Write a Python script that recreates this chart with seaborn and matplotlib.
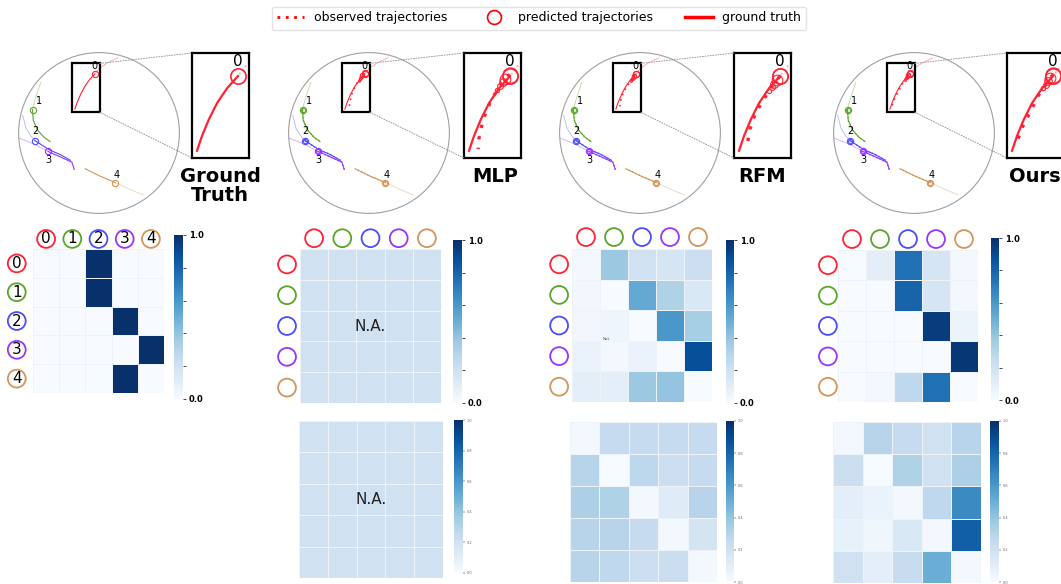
import numpy as np
import matplotlib
matplotlib.use("Agg")
import matplotlib.pyplot as plt
import seaborn as sns
from matplotlib.lines import Line2D
from matplotlib.patches import Circle, Rectangle, ConnectionPatch

W, H = 1061, 584

AGENT_IDS = ["0", "1", "2", "3", "4"]
AGENT_COLORS = ["#ff2233", "#5aa528", "#4b4bff", "#9933ff", "#d4955a"]

# scene coordinates: the round scene is centred on (0, 0) with radius 1
AGENT_PAST = [
    [(0.235, 0.935), (0.10, 0.87), (0.0, 0.80), (-0.054, 0.732)],
    [(-0.724, 0.629), (-0.773, 0.486), (-0.810, 0.363), (-0.827, 0.290)],
    [(-0.949, 0.220), (-0.908, 0.057), (-0.847, -0.037), (-0.798, -0.094)],
    [(-0.990, -0.065), (-0.806, -0.139), (-0.635, -0.229)],
    [(0.549, -0.771), (0.378, -0.698), (0.202, -0.616)],
]
AGENT_FUTURE = [
    [(-0.054, 0.732), (-0.119, 0.662), (-0.179, 0.576), (-0.229, 0.480), (-0.270, 0.384), (-0.300, 0.298)],
    [(-0.827, 0.290), (-0.818, 0.159), (-0.765, 0.037), (-0.684, -0.053), (-0.610, -0.106)],
    [(-0.798, -0.094), (-0.622, -0.208), (-0.480, -0.269), (-0.357, -0.339)],
    [(-0.635, -0.229), (-0.480, -0.298), (-0.337, -0.363), (-0.308, -0.453)],
    [(0.202, -0.616), (0.010, -0.535), (-0.173, -0.445)],
]
LABEL_XY = [(-0.059, 0.83), (-0.74, 0.40), (-0.786, 0.03), (-0.63, -0.34), (0.214, -0.527)]

# predicted track of agent 0 for each method (dense near the start, where the circles sit)
PRED0_MLP = [(-0.054, 0.741), (-0.083, 0.716), (-0.099, 0.697), (-0.113, 0.674), (-0.130, 0.651),
             (-0.170, 0.587), (-0.215, 0.481), (-0.241, 0.366), (-0.245, 0.308)]
PRED0_RFM = [(-0.054, 0.731), (-0.075, 0.708), (-0.090, 0.688), (-0.104, 0.668), (-0.118, 0.648),
             (-0.158, 0.587), (-0.204, 0.510), (-0.235, 0.423), (-0.251, 0.331)]
PRED0_OURS = [(-0.054, 0.741), (-0.070, 0.720), (-0.083, 0.702), (-0.097, 0.683), (-0.112, 0.662),
              (-0.144, 0.616), (-0.188, 0.529), (-0.239, 0.433), (-0.279, 0.327)]
PRED_CIRCLE_SCALE = [1.0, 0.7, 0.5, 0.38, 0.28]

ZOOM_X = (-0.33, 0.012)
ZOOM_Y = (0.256, 0.866)

METHODS = ["Ground\nTruth", "MLP", "RFM", "Ours"]

GT_ASSIGN = [
    [0, 0, 1, 0, 0],
    [0, 0, 1, 0, 0],
    [0, 0, 0, 1, 0],
    [0, 0, 0, 0, 1],
    [0, 0, 0, 1, 0],
]
MLP_ASSIGN = [[0.2] * 5 for _ in range(5)]
RFM_ASSIGN = [
    [0.02, 0.38, 0.20, 0.17, 0.22],
    [0.03, 0.00, 0.52, 0.32, 0.15],
    [0.03, 0.05, 0.00, 0.60, 0.35],
    [0.07, 0.02, 0.07, 0.00, 0.88],
    [0.10, 0.10, 0.38, 0.40, 0.00],
]
OURS_ASSIGN = [
    [0.00, 0.10, 0.75, 0.17, 0.02],
    [0.00, 0.00, 0.80, 0.17, 0.02],
    [0.00, 0.00, 0.00, 0.95, 0.06],
    [0.00, 0.00, 0.00, 0.00, 0.97],
    [0.00, 0.02, 0.27, 0.75, 0.00],
]
MLP_ATTN = [[0.2] * 5 for _ in range(5)]
RFM_ATTN = [
    [0.02, 0.25, 0.25, 0.25, 0.25],
    [0.30, 0.01, 0.28, 0.22, 0.25],
    [0.33, 0.32, 0.02, 0.12, 0.30],
    [0.30, 0.30, 0.25, 0.02, 0.18],
    [0.30, 0.27, 0.22, 0.23, 0.02],
]
OURS_ATTN = [
    [0.02, 0.30, 0.25, 0.20, 0.30],
    [0.22, 0.01, 0.32, 0.20, 0.33],
    [0.10, 0.07, 0.02, 0.27, 0.65],
    [0.08, 0.04, 0.15, 0.02, 0.82],
    [0.20, 0.10, 0.24, 0.50, 0.02],
]

# layout, in pixels from the top-left corner
SCENE_CX = [99, 369, 640, 914]
SCENE_CY = 133
SCENE_R = 82
INSET_X = [192, 464, 734, 1007]
TITLE_XY = [(220, 186), (495, 176), (762, 176), (1035, 176)]
HM1 = [(33, 249, 164, 393), (300, 249, 441, 403), (572, 249, 712, 402), (838, 250, 978, 402)]
CB1 = [(174, 235, 183, 399), (453, 240, 462, 403), (726, 240, 734, 403), (991, 238, 999, 400)]
LBL_OFF = [(-0.35, -0.62), (-0.35, -0.46), (-0.39, -0.46), (-0.36, -0.36)]
HM2 = [None, (299, 421, 443, 578), (570, 422, 717, 582), (833, 422, 981, 583)]
CB2 = [None, (454, 420, 463, 573), (726, 421, 734, 582), (990, 421, 999, 582)]

fig = plt.figure(figsize=(W / 100, H / 100), dpi=100)


def px_axes(x0, y0, x1, y1):
    return fig.add_axes([x0 / W, 1 - y1 / H, (x1 - x0) / W, (y1 - y0) / H])


def draw_tracks(ax, pred0, big):
    lw = 1.6 if big else 0.8
    ms = 11 if big else 4.5
    for k in range(5):
        c = AGENT_COLORS[k]
        past = np.array(AGENT_PAST[k])
        fut = np.array(AGENT_FUTURE[k])
        ax.plot(past[:, 0], past[:, 1], color=c, lw=lw * 0.8, alpha=0.4,
                ls=":" if big else "-")
        ax.plot(fut[:, 0], fut[:, 1], color=c, lw=lw)
        if pred0 is not None:
            if k == 0:
                pred = np.array(pred0)
                ax.plot(pred[:, 0], pred[:, 1], color=c, lw=lw * 1.5, ls=(0, (1, 2.5)))
                for p, s in zip(pred, PRED_CIRCLE_SCALE):
                    ax.plot(p[0], p[1], marker="o", ms=ms * s, mfc="none", mec=c, mew=0.8)
            else:
                ax.plot(fut[:, 0], fut[:, 1], color=c, lw=lw * 1.3, ls=(0, (1, 1.5)), alpha=0.8)
                ax.plot(fut[0, 0], fut[0, 1], marker="o", ms=ms * 0.65, mfc="none", mec=c, mew=0.7)
        ax.plot(fut[0, 0], fut[0, 1], marker="o", ms=ms, mfc="none", mec=c,
                mew=1.2 if big else 0.8)


def draw_scene(i, pred0):
    cx = SCENE_CX[i]
    ax = px_axes(cx - SCENE_R, SCENE_CY - SCENE_R, cx + SCENE_R, SCENE_CY + SCENE_R)
    ax.set_xlim(-1.02, 1.02)
    ax.set_ylim(-1.02, 1.02)
    ax.axis("off")
    ax.add_patch(Circle((0, 0), 1, fill=False, ec="#a0a0a0", lw=0.8))
    draw_tracks(ax, pred0, big=False)
    for k in range(5):
        ax.text(LABEL_XY[k][0], LABEL_XY[k][1], AGENT_IDS[k], fontsize=7,
                ha="center", va="center")
    ax.add_patch(Rectangle((ZOOM_X[0], ZOOM_Y[0]), ZOOM_X[1] - ZOOM_X[0],
                           ZOOM_Y[1] - ZOOM_Y[0], fill=False, ec="black", lw=1.6, zorder=5))

    ins = px_axes(INSET_X[i], 53, INSET_X[i] + 57, 158)
    ins.set_xlim(*ZOOM_X)
    ins.set_ylim(*ZOOM_Y)
    ins.set_xticks([])
    ins.set_yticks([])
    for sp in ins.spines.values():
        sp.set_linewidth(1.6)
    draw_tracks(ins, pred0, big=True)
    ins.text(-0.058, 0.815, "0", fontsize=11, ha="center", va="center")

    for (bx, by), (ix, iy) in [((ZOOM_X[1], ZOOM_Y[1]), (0, 1)), ((ZOOM_X[1], ZOOM_Y[0]), (0, 0))]:
        con = ConnectionPatch(xyA=(bx, by), coordsA=ax.transData, xyB=(ix, iy),
                              coordsB=ins.transAxes, color="#999999", lw=0.7, ls=":")
        fig.add_artist(con)

    tx, ty = TITLE_XY[i]
    fig.text(tx / W, 1 - ty / H, METHODS[i], fontsize=14, fontweight="bold",
             ha="center", va="center", linespacing=1.05)


def draw_heatmap(box, cbox, mat, small_cbar, labels=None, numbered=False):
    ax = px_axes(*box)
    cax = px_axes(*cbox)
    sns.heatmap(np.array(mat), ax=ax, cbar_ax=cax, cmap="Blues", vmin=0, vmax=1,
                linewidths=0.6, linecolor="#eef3f9", xticklabels=False, yticklabels=False)
    ticks = [0, 0.2, 0.4, 0.6, 0.8, 1.0]
    cax.set_yticks(ticks)
    if small_cbar:
        cax.set_yticklabels([f"{t:.1f}" for t in ticks], fontsize=2.5, color="#666666")
        cax.tick_params(length=1.5, width=0.3, pad=1)
    else:
        cax.set_yticklabels(["0.0", "", "", "", "", "1.0"], fontsize=6, fontweight="bold")
        cax.tick_params(length=2, width=0.5, pad=2)
    if labels is not None:
        oy, ox = labels
        pos = np.arange(5) + 0.5
        ax.scatter(pos, [oy] * 5, s=165, facecolors="white", edgecolors=AGENT_COLORS,
                   linewidths=1.3, clip_on=False, zorder=5)
        ax.scatter([ox] * 5, pos, s=165, facecolors="white", edgecolors=AGENT_COLORS,
                   linewidths=1.3, clip_on=False, zorder=5)
        if numbered:
            for k in range(5):
                ax.text(pos[k], oy, AGENT_IDS[k], fontsize=11, ha="center", va="center", zorder=6)
                ax.text(ox, pos[k], AGENT_IDS[k], fontsize=11, ha="center", va="center", zorder=6)
    return ax


draw_scene(0, None)
draw_scene(1, PRED0_MLP)
draw_scene(2, PRED0_RFM)
draw_scene(3, PRED0_OURS)

draw_heatmap(HM1[0], CB1[0], GT_ASSIGN, False, LBL_OFF[0], numbered=True)
ax_mlp = draw_heatmap(HM1[1], CB1[1], MLP_ASSIGN, False, LBL_OFF[1])
ax_mlp.text(2.5, 2.5, "N.A.", fontsize=11, ha="center", va="center", color="#222222")
ax_rfm = draw_heatmap(HM1[2], CB1[2], RFM_ASSIGN, False, LBL_OFF[2])
ax_rfm.text(1.1, 2.95, "Not", fontsize=3, ha="left", va="center", color="#555555")
draw_heatmap(HM1[3], CB1[3], OURS_ASSIGN, False, LBL_OFF[3])

ax_mlp2 = draw_heatmap(HM2[1], CB2[1], MLP_ATTN, True)
ax_mlp2.text(2.5, 2.5, "N.A.", fontsize=11, ha="center", va="center", color="#222222")
draw_heatmap(HM2[2], CB2[2], RFM_ATTN, True)
draw_heatmap(HM2[3], CB2[3], OURS_ATTN, True)

handles = [
    Line2D([], [], color="red", lw=2, ls=(0, (1, 2))),
    Line2D([], [], color="red", marker="o", ms=10, mfc="none", ls="none", mew=1.2),
    Line2D([], [], color="red", lw=2.5),
]
fig.legend(handles, ["observed trajectories", "predicted trajectories", "ground truth"],
           loc="center", bbox_to_anchor=(539 / W, 1 - 18 / H), ncol=3, fontsize=9,
           frameon=True, columnspacing=2.6, handlelength=2.2, borderpad=0.4,
           fancybox=True, edgecolor="#dddddd")

fig.savefig("out.png", dpi=100)
